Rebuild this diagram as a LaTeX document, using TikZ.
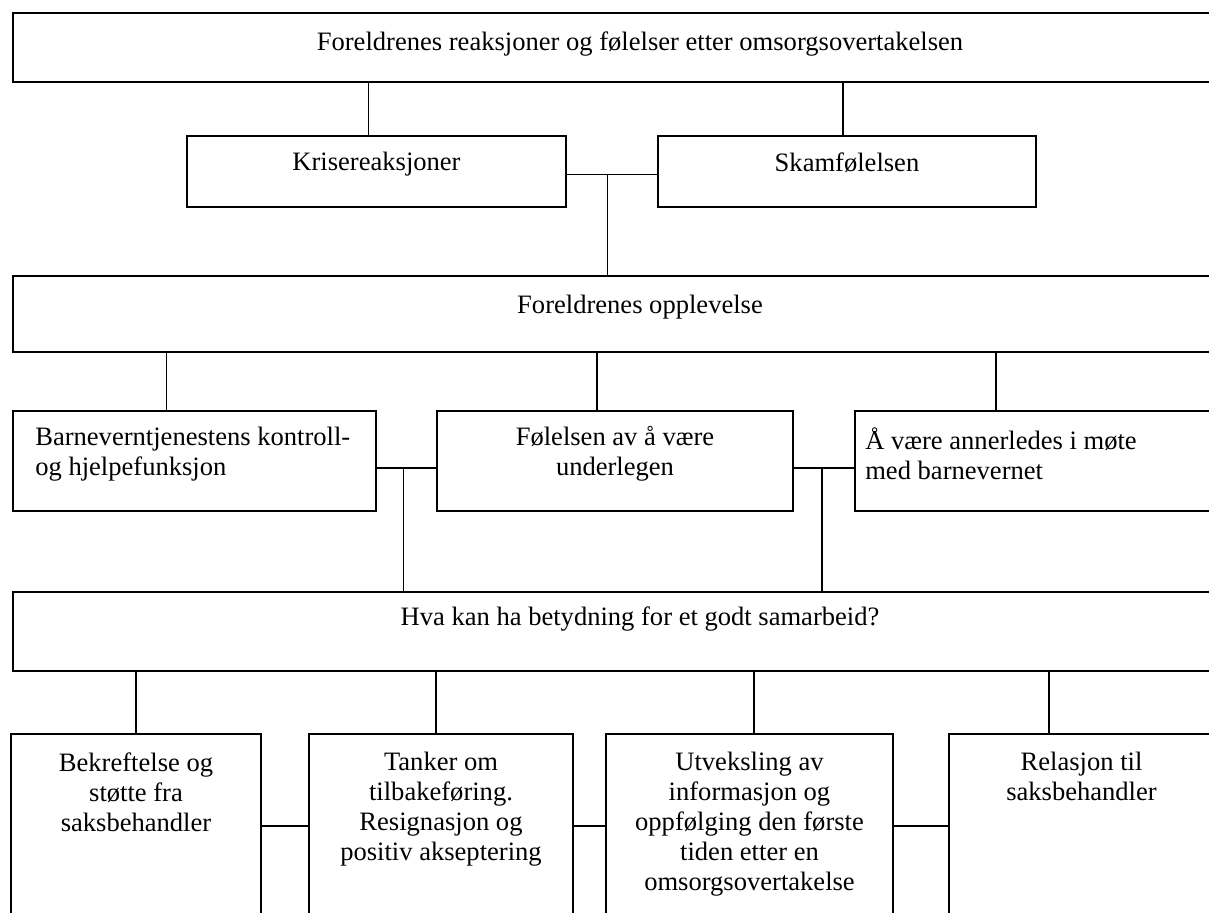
\documentclass[tikz,border=0pt]{standalone}
\usepackage{fontspec}
\setmainfont{Liberation Serif}
\usetikzlibrary{positioning,fit,calc}

\begin{document}
\begin{tikzpicture}
[x=0.625pt, y=-0.625pt,
box/.style={draw=black, line width=0.9pt, inner sep=0pt, fill=white},
txt/.style={font=\fontsize{16.6}{18.75}\selectfont, inner sep=0pt, align=center},
line/.style={line width=0.9pt},
]
\useasboundingbox (0,0) rectangle (1209,913);
\begin{scope}
\clip (0,0) rectangle (1209,913);
    % boxes
    \node (top) [box, fit={(13,13) (1267,82)}] {};
    \node (kris) [box, fit={(187,136) (566,207)}] {};
    \node (skam) [box, fit={(658,136) (1036,207)}] {};
    \node (opplev) [box, fit={(13,276) (1267,352)}] {};
    \node (barn) [box, fit={(13,411) (376,511)}] {};
    \node (fol) [box, fit={(437,411) (793,511)}] {};
    \node (avaere) [box, fit={(855,411) (1267,511)}] {};
    \node (hva) [box, fit={(13,592) (1267,671)}] {};
    \node (b1) [box, fit={(11,734) (261,950)}] {};
    \node (b2) [box, fit={(309,734) (573,950)}] {};
    \node (b3) [box, fit={(606,734) (893,950)}] {};
    \node (b4) [box, fit={(949,734) (1214,950)}] {};
    % texts
    \node (toptxt) [txt] at (top.center |- 0,44) {Foreldrenes reaksjoner og følelser etter omsorgsovertakelsen};
    \node (kristxt) [txt] at (kris.center |- 0,164) {Krisereaksjoner};
    \node (skamtxt) [txt] at (skam.center |- 0,163) {Skamfølelsen};
    \node (opplevtxt) [txt] at (opplev.center |- 0,307) {Foreldrenes opplevelse};
    \node (barntxt) [txt, align=left, anchor=west] at (35,454) {Barneverntjenestens kontroll-\\og hjelpefunksjon};
    \node (foltxt) [txt] at (fol.center |- 0,454) {Følelsen av å være\\underlegen};
    \node (avaeretxt) [txt, align=left, anchor=west] at (865,454) {Å være annerledes i møte\\med barnevernet};
    \node (hvatxt) [txt] at (hva.center |- 0,619) {Hva kan ha betydning for et godt samarbeid?};
    \node (b1txt) [txt, anchor=north] at (b1.north |- 0,752) {Bekreftelse og\\støtte fra\\saksbehandler};
    \node (b2txt) [txt, anchor=north] at (b2.north |- 0,752) {Tanker om\\tilbakeføring.\\Resignasjon og\\positiv akseptering};
    \node (b3txt) [txt, anchor=north] at (b3.north |- 0,752) {Utveksling av\\informasjon og\\oppfølging den første\\tiden etter en\\omsorgsovertakelse};
    \node (b4txt) [txt, anchor=north] at (b4.north |- 0,752) {Relasjon til\\saksbehandler};
    % connectors
    \draw[line] ($(kris.north)+(-8,0)$) coordinate (k1) -- (k1 |- top.south);
    \draw[line] ($(skam.north)+(-4,0)$) coordinate (k2) -- (k2 |- top.south);
    \draw[line] ($(kris.east)+(0,3)$) -- coordinate[pos=.45] (kmid) ($(skam.west)+(0,3)$);
    \draw[line] (kmid) -- (kmid |- opplev.north);
    \draw[line] ($(barn.north)+(-28,0)$) coordinate (o1) -- (o1 |- opplev.south);
    \draw[line] ($(fol.north)+(-18,0)$) coordinate (o2) -- (o2 |- opplev.south);
    \draw[line] ($(avaere.north)+(-65,0)$) coordinate (o3) -- (o3 |- opplev.south);
    \draw[line] ($(barn.east)+(0,7)$) -- coordinate[pos=.45] (bmid) ($(fol.west)+(0,7)$);
    \draw[line] (bmid) -- (bmid |- hva.north);
    \draw[line] ($(fol.east)+(0,7)$) -- coordinate[pos=.47] (fmid) ($(avaere.west)+(0,7)$);
    \draw[line] (fmid) -- (fmid |- hva.north);
    \draw[line] (b1.north) -- (b1.north |- hva.south);
    \draw[line] ($(b2.north)+(-5,0)$) coordinate (h2) -- (h2 |- hva.south);
    \draw[line] ($(b3.north)+(4.5,0)$) coordinate (h3) -- (h3 |- hva.south);
    \draw[line] ($(b4.north)+(-32.5,0)$) coordinate (h4) -- (h4 |- hva.south);
    \draw[line] ($(b1.east)+(0,-16)$) -- ($(b2.west)+(0,-16)$);
    \draw[line] ($(b2.east)+(0,-16)$) -- ($(b3.west)+(0,-16)$);
    \draw[line] ($(b3.east)+(0,-16)$) -- ($(b4.west)+(0,-16)$);
\end{scope}
\end{tikzpicture}
\end{document}
